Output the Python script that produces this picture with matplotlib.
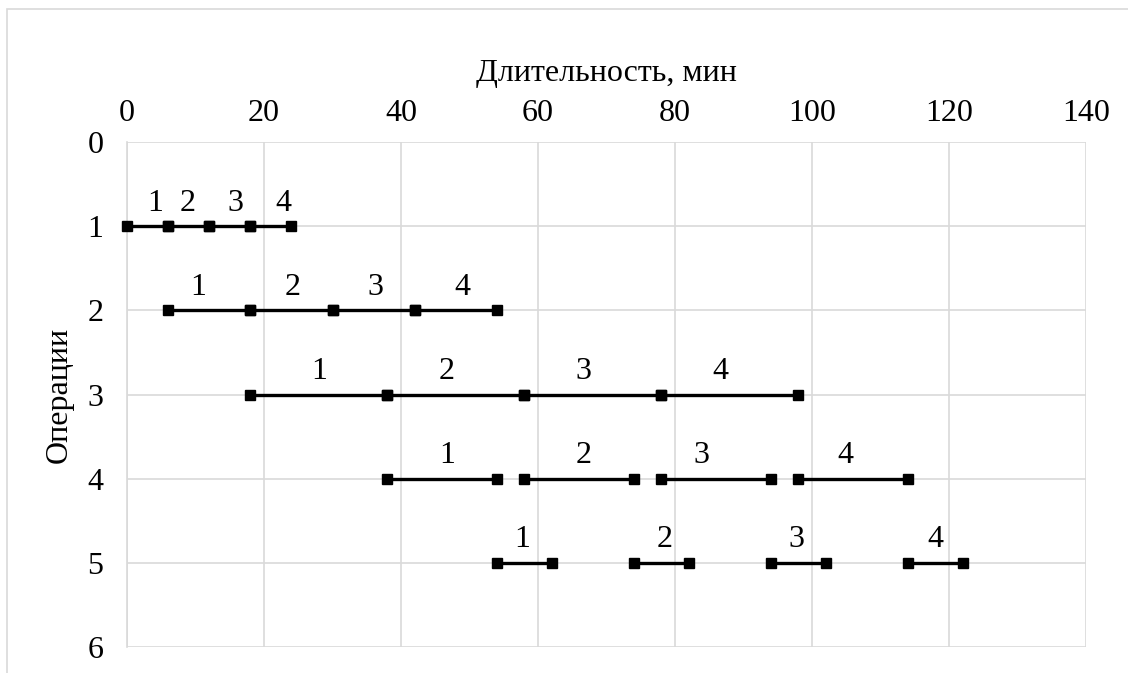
import matplotlib.pyplot as plt
from matplotlib.patches import Rectangle

# Operation schedule: start / end (minutes) of each of 4 parts per operation
operations = [1, 2, 3, 4, 5]
starts = [
    [0, 6, 12, 18],
    [6, 18, 30, 42],
    [18, 38, 58, 78],
    [38, 58, 78, 98],
    [54, 74, 94, 114],
]
ends = [
    [6, 12, 18, 24],
    [18, 30, 42, 54],
    [38, 58, 78, 98],
    [54, 74, 94, 114],
    [62, 82, 102, 122],
]
part_labels = ["1", "2", "3", "4"]
# small horizontal shift of the labels from segment middle (minutes)
label_nudge = [
    [1.1, -0.2, 0.8, 1.8],
    [-1.6, 0.2, 0.2, 0.9],
    [0.0, -1.3, -1.4, -1.4],
    [0.7, 0.6, -2.1, -1.2],
    [-0.3, 0.5, -0.3, 0.0],
]
x_ticks = [0, 20, 40, 60, 80, 100, 120, 140]
y_ticks = [0, 1, 2, 3, 4, 5, 6]

plt.rcParams['font.family'] = ['Liberation Serif', 'DejaVu Serif']
FS = 23

fig = plt.figure(figsize=(11.28, 6.73), dpi=100)
# outer chart frame (partially cut at right/bottom)
fig.patches.append(Rectangle((7 / 1128, -0.1), 1.2, 1 - 9 / 673 + 0.1,
                             transform=fig.transFigure, fill=False,
                             edgecolor='#d9d9d9', linewidth=1.2))

ax = fig.add_axes([127 / 1128, 1 - 647 / 673, (1086 - 127) / 1128, (647 - 142) / 673])

for i, op in enumerate(operations):
    for j in range(4):
        x0, x1 = starts[i][j], ends[i][j]
        ax.plot([x0, x1], [op, op], color='black', linewidth=2.4,
                marker='s', markersize=6.5, zorder=3, clip_on=False)
        ax.text((x0 + x1) / 2 + label_nudge[i][j], op - 0.1, part_labels[j],
                ha='center', va='bottom', fontsize=FS)

ax.set_xlim(0, 140)
ax.set_ylim(6, 0)
ax.set_xticks(x_ticks)
ax.set_yticks(y_ticks)
ax.xaxis.tick_top()
ax.xaxis.set_label_position('top')
ax.tick_params(axis='both', length=0, labelsize=FS)
ax.tick_params(axis='x', pad=10)
ax.tick_params(axis='y', pad=17)
ax.set_xlabel('Длительность, мин', fontsize=FS, labelpad=13)
ax.set_ylabel('Операции', fontsize=FS, labelpad=10)
ax.grid(True, color='#d9d9d9', linewidth=1.2)
ax.set_axisbelow(True)
for side in ['top', 'right', 'bottom']:
    ax.spines[side].set_visible(False)
ax.spines['left'].set_color('#d9d9d9')
ax.spines['left'].set_linewidth(1.2)

fig.savefig('out.png', dpi=100)
